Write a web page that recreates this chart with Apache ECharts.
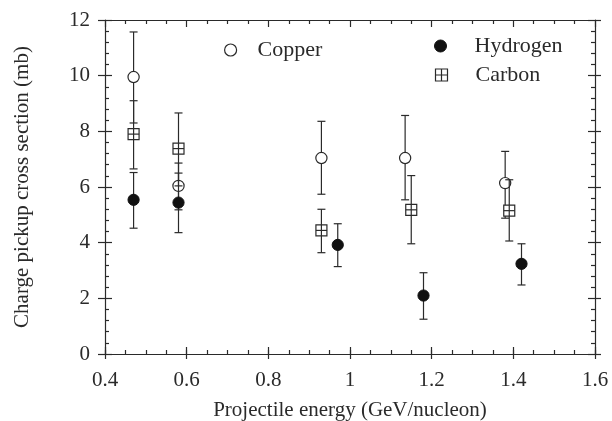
<!DOCTYPE html>
<html>
<head>
<meta charset="utf-8">
<script src="https://cdn.jsdelivr.net/npm/echarts@6/dist/echarts.min.js"></script>
<style>html,body{margin:0;padding:0;background:#fff;}#c{width:612px;height:421px;}</style>
</head>
<body>
<div id="c"></div>
<script>
// Data
const xTicks = [0.4, 0.6, 0.8, 1, 1.2, 1.4, 1.6];
const yTicks = [0, 2, 4, 6, 8, 10, 12];

const copperX    = [0.47, 0.58, 0.93, 1.135, 1.38];
const copperY    = [9.95, 6.04, 7.04, 7.04, 6.14];
const copperLow  = [8.30, 5.18, 5.74, 5.54, 4.88];
const copperHigh = [11.57, 6.86, 8.36, 8.57, 7.28];

const hydrogenX    = [0.47, 0.58, 0.97, 1.18, 1.42];
const hydrogenY    = [5.54, 5.44, 3.92, 2.10, 3.24];
const hydrogenLow  = [4.52, 4.36, 3.14, 1.25, 2.48];
const hydrogenHigh = [6.52, 6.50, 4.68, 2.92, 3.96];

const carbonX    = [0.47, 0.58, 0.93, 1.15, 1.39];
const carbonY    = [7.90, 7.38, 4.44, 5.18, 5.15];
const carbonLow  = [6.65, 6.04, 3.64, 3.96, 4.06];
const carbonHigh = [9.10, 8.66, 5.20, 6.41, 6.26];

const INK = '#2a2a2a';
const FONT = '"Liberation Serif", "DejaVu Serif", serif';

function rows(xs, ys, lo, hi) { return xs.map((x, i) => [x, ys[i], lo[i], hi[i]]); }

function makeRender(kind) {
  return function (params, api) {
    const x = api.value(0), y = api.value(1), lo = api.value(2), hi = api.value(3);
    const p = api.coord([x, y]);
    const pl = api.coord([x, lo]);
    const ph = api.coord([x, hi]);
    const cap = 4;
    const st = { stroke: INK, lineWidth: 1.2, fill: null };
    const ch = [
      { type: 'line', shape: { x1: p[0], y1: pl[1], x2: p[0], y2: ph[1] }, style: st },
      { type: 'line', shape: { x1: p[0] - cap, y1: pl[1], x2: p[0] + cap, y2: pl[1] }, style: st },
      { type: 'line', shape: { x1: p[0] - cap, y1: ph[1], x2: p[0] + cap, y2: ph[1] }, style: st }
    ];
    const r = 5.6;
    if (kind === 'open') {
      ch.push({ type: 'circle', shape: { cx: p[0], cy: p[1], r: r }, style: { fill: '#fff', stroke: INK, lineWidth: 1.2 } });
    } else if (kind === 'filled') {
      ch.push({ type: 'circle', shape: { cx: p[0], cy: p[1], r: r }, style: { fill: '#111', stroke: '#111', lineWidth: 1 } });
    } else {
      const s = 5.5;
      ch.push({ type: 'rect', shape: { x: p[0] - s, y: p[1] - s, width: 2 * s, height: 2 * s }, style: { fill: '#fff', stroke: INK, lineWidth: 1.2 } });
      ch.push({ type: 'line', shape: { x1: p[0] - s, y1: p[1], x2: p[0] + s, y2: p[1] }, style: st });
      ch.push({ type: 'line', shape: { x1: p[0], y1: p[1] - s, x2: p[0], y2: p[1] + s }, style: st });
    }
    return { type: 'group', children: ch };
  };
}

const lineStyle = { color: INK, width: 1.2 };
function xAx(pos, opts) {
  return Object.assign({
    type: 'value', position: pos, min: 0.4, max: 1.6, interval: 0.2,
    splitLine: { show: false },
    axisLine: { show: true, onZero: false, lineStyle: lineStyle },
    axisLabel: { show: false },
    axisTick: { show: true, inside: true, length: 7, lineStyle: lineStyle },
    minorTick: { show: false }
  }, opts);
}
function yAx(pos, opts) {
  return Object.assign({
    type: 'value', position: pos, min: 0, max: 12, interval: 2,
    splitLine: { show: false },
    axisLine: { show: true, onZero: false, lineStyle: lineStyle },
    axisLabel: { show: false },
    axisTick: { show: true, inside: true, length: 7, lineStyle: lineStyle },
    minorTick: { show: false }
  }, opts);
}

const chart = echarts.init(document.getElementById('c'), null, { renderer: 'canvas' });
chart.setOption({
  backgroundColor: '#fff',
  animation: false,
  grid: { left: 105, right: 17, top: 20, bottom: 67, containLabel: false, outerBoundsMode: 'none' },
  xAxis: [
    xAx('bottom', {
      name: 'Projectile energy (GeV/nucleon)', nameLocation: 'middle', nameGap: 46,
      nameTextStyle: { fontFamily: FONT, fontSize: 21, color: INK },
      axisTick: { show: true, inside: false, length: 5, lineStyle: lineStyle },
      axisLabel: { show: true, margin: 16, fontFamily: FONT, fontSize: 21, color: INK,
        formatter: v => String(xTicks.find(t => Math.abs(t - v) < 1e-6) ?? '') }
    }),
    xAx('bottom', { axisLine: { show: false }, minorTick: { show: true, splitNumber: 4, length: 4, lineStyle: lineStyle } }),
    xAx('top', { minorTick: { show: true, splitNumber: 4, length: 4, lineStyle: lineStyle } }),
    xAx('top', { axisLine: { show: false }, axisTick: { show: true, inside: false, length: 4, lineStyle: lineStyle } })
  ],
  yAxis: [
    yAx('left', {
      name: 'Charge pickup cross section (mb)', nameLocation: 'middle', nameGap: 72,
      nameTextStyle: { fontFamily: FONT, fontSize: 21, color: INK },
      axisTick: { show: true, inside: false, length: 7, lineStyle: lineStyle },
      axisLabel: { show: true, margin: 15, fontFamily: FONT, fontSize: 21, color: INK,
        formatter: v => String(yTicks.find(t => Math.abs(t - v) < 1e-6) ?? '') }
    }),
    yAx('left', { axisLine: { show: false }, minorTick: { show: true, splitNumber: 5, length: 4, lineStyle: lineStyle } }),
    yAx('right', { minorTick: { show: true, splitNumber: 5, length: 4, lineStyle: lineStyle } }),
    yAx('right', { axisLine: { show: false }, axisTick: { show: true, inside: false, length: 6, lineStyle: lineStyle } })
  ],
  legend: [
    { left: 219, top: 34, itemWidth: 12, itemHeight: 12, selectedMode: false,
      textStyle: { fontFamily: FONT, fontSize: 22, color: INK, padding: [0, 0, 0, 16] },
      data: [{ name: 'Copper', icon: 'circle', itemStyle: { color: '#fff', borderColor: INK, borderWidth: 1.2 } }] },
    { left: 429, top: 30, itemWidth: 12, itemHeight: 12, selectedMode: false,
      textStyle: { fontFamily: FONT, fontSize: 22, color: INK, padding: [0, 0, 0, 23] },
      data: [{ name: 'Hydrogen', icon: 'circle', itemStyle: { color: '#111', borderColor: '#111', borderWidth: 1 } }] },
    { left: 428, top: 59, itemWidth: 12, itemHeight: 12, selectedMode: false,
      textStyle: { fontFamily: FONT, fontSize: 22, color: INK, padding: [0, 0, 0, 23] },
      data: [{ name: 'Carbon', icon: 'path://M0,0L10,0L10,10L0,10Z M5,0L5,10 M0,5L10,5', itemStyle: { color: 'none', borderColor: INK, borderWidth: 1.2 } }] }
  ],
  series: [
    { name: 'Copper', type: 'custom', xAxisIndex: 0, yAxisIndex: 0, renderItem: makeRender('open'),
      encode: { x: 0, y: 1 }, data: rows(copperX, copperY, copperLow, copperHigh), z: 3 },
    { name: 'Hydrogen', type: 'custom', xAxisIndex: 0, yAxisIndex: 0, renderItem: makeRender('filled'),
      encode: { x: 0, y: 1 }, data: rows(hydrogenX, hydrogenY, hydrogenLow, hydrogenHigh), z: 4 },
    { name: 'Carbon', type: 'custom', xAxisIndex: 0, yAxisIndex: 0, renderItem: makeRender('square'),
      encode: { x: 0, y: 1 }, data: rows(carbonX, carbonY, carbonLow, carbonHigh), z: 5 }
  ]
});
</script>
</body>
</html>
